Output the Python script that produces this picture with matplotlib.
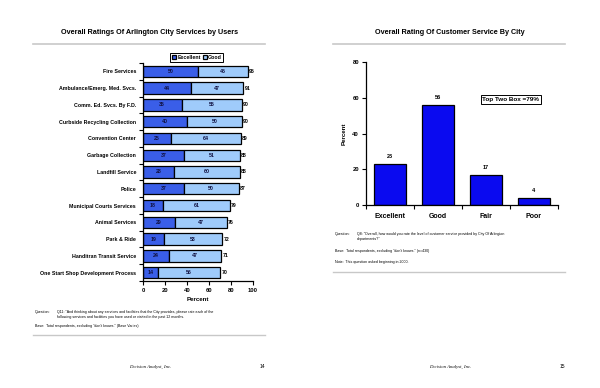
import numpy as np
import matplotlib.pyplot as plt
from matplotlib.lines import Line2D

plt.rcParams['font.family'] = ['Liberation Sans', 'DejaVu Sans']

# left page data
services = ["Fire Services", "Ambulance/Emerg. Med. Svcs.", "Comm. Ed. Svcs. By F.D.",
            "Curbside Recycling Collection", "Convention Center", "Garbage Collection",
            "Landfill Service", "Police", "Municipal Courts Services", "Animal Services",
            "Park & Ride", "Handitran Transit Service", "One Start Shop Development Process"]
excellent = [50, 44, 35, 40, 25, 37, 28, 37, 18, 29, 19, 24, 14]
good = [45, 47, 55, 50, 64, 51, 60, 50, 61, 47, 53, 47, 56]
totals = [95, 91, 90, 90, 89, 88, 88, 87, 79, 76, 72, 71, 70]

# right page data
ratings = ["Excellent", "Good", "Fair", "Poor"]
rating_pct = [23, 56, 17, 4]

W, H = 600, 388
fig = plt.figure(figsize=(6, 3.88), dpi=100)


def fx(px):
    return px / W


def fy(py):
    return 1 - py / H


# ---------------- left page ----------------
fig.text(fx(150), fy(33), "Overall Ratings Of Arlington City Services by Users",
         ha="center", va="center", fontsize=5.2, fontweight="bold")
fig.add_artist(Line2D([fx(33), fx(265)], [fy(44), fy(44)], color="#c8c8c8", lw=1.2))

ax1 = fig.add_axes([fx(143), fy(281), fx(110), fy(63) - fy(281)])
y = np.arange(len(services))
ax1.barh(y, excellent, height=0.68, color="#3a5ee8", edgecolor="black", lw=0.9, label="Excellent")
ax1.barh(y, good, left=excellent, height=0.68, color="#9fcbfb", edgecolor="black", lw=0.9, label="Good")
for i in range(len(services)):
    ax1.text(excellent[i] / 2, y[i], str(excellent[i]), ha="center", va="center",
             fontsize=3.8, fontweight="bold", color="#101040")
    ax1.text(excellent[i] + good[i] / 2, y[i], str(good[i]), ha="center", va="center",
             fontsize=3.8, fontweight="bold", color="#101040")
    ax1.text(totals[i] + 1.2, y[i], str(totals[i]), ha="left", va="center",
             fontsize=3.8, fontweight="bold")
ax1.set_ylim(len(services) - 0.5, -0.5)
ax1.set_xlim(0, 100)
ax1.set_xticks([0, 20, 40, 60, 80, 100])
ax1.set_yticks(y)
ax1.set_yticklabels(services)
ax1.set_yticks(np.arange(-0.5, len(services), 1), minor=True)
ax1.tick_params(axis="y", which="major", length=0, labelsize=3.8, pad=5)
ax1.tick_params(axis="y", which="minor", length=3, width=0.8, direction="out")
ax1.tick_params(axis="x", length=3, width=0.8, labelsize=4.2, pad=2)
for lab in ax1.get_yticklabels() + ax1.get_xticklabels():
    lab.set_fontweight("bold")
ax1.spines[["top", "right"]].set_visible(False)
ax1.spines[["left", "bottom"]].set_linewidth(0.9)
ax1.set_xlabel("Percent", fontsize=4.4, fontweight="bold", labelpad=3)
ax1.legend(loc="center", bbox_to_anchor=(0.49, 1.025), ncol=2, fontsize=3.8,
           frameon=True, fancybox=False, edgecolor="black", framealpha=1,
           handlelength=0.8, handleheight=0.8, handletextpad=0.2, columnspacing=0.4,
           borderpad=0.3, borderaxespad=0)
for t in ax1.get_legend().get_texts():
    t.set_fontweight("bold")
ax1.get_legend().get_frame().set_linewidth(0.7)

fig.text(fx(35), fy(312), "Question:", fontsize=2.6, va="center")
fig.text(fx(57), fy(312), "Q11: \"And thinking about any services and facilities that the City provides, please rate each of the",
         fontsize=2.6, va="center")
fig.text(fx(57), fy(317), "following services and facilities you have used or visited in the past 12 months.",
         fontsize=2.6, va="center")
fig.text(fx(35), fy(326), "Base:  Total respondents, excluding \"don't knows.\" (Base Varies)",
         fontsize=2.6, va="center")
fig.add_artist(Line2D([fx(33), fx(265)], [fy(335), fy(335)], color="#c8c8c8", lw=1.0))
fig.text(fx(150), fy(367), "Decision Analyst, Inc.", ha="center", va="center",
         fontsize=3.4, style="italic", family="Liberation Serif")
fig.text(fx(262), fy(367), "14", ha="center", va="center", fontsize=3.6)

# ---------------- right page ----------------
fig.text(fx(450), fy(33), "Overall Rating Of Customer Service By City",
         ha="center", va="center", fontsize=5.2, fontweight="bold")
fig.add_artist(Line2D([fx(333), fx(565)], [fy(44), fy(44)], color="#c8c8c8", lw=1.2))

ax2 = fig.add_axes([fx(366), fy(205), fx(192), fy(62) - fy(205)])
x = np.arange(len(ratings))
ax2.bar(x, rating_pct, width=0.67, color="#0a0af0", edgecolor="black", lw=0.9)
for i, v in enumerate(rating_pct):
    ax2.text(x[i], v + 2.5, str(v), ha="center", va="bottom", fontsize=4, fontweight="bold")
ax2.set_xlim(-0.5, len(ratings) - 0.5)
ax2.set_ylim(0, 80)
ax2.set_yticks([0, 20, 40, 60, 80])
ax2.set_xticks(x)
ax2.set_xticklabels(ratings)
ax2.set_xticks(np.arange(-0.5, len(ratings), 1), minor=True)
ax2.tick_params(axis="x", which="major", length=0, labelsize=5, pad=6)
ax2.tick_params(axis="x", which="minor", length=3, width=0.8, direction="out")
ax2.tick_params(axis="y", length=3, width=0.8, labelsize=4.2, pad=2)
for lab in ax2.get_yticklabels() + ax2.get_xticklabels():
    lab.set_fontweight("bold")
ax2.spines[["top", "right"]].set_visible(False)
ax2.spines[["left", "bottom"]].set_linewidth(0.9)
ax2.set_ylabel("Percent", fontsize=4.4, fontweight="bold", labelpad=4)
ax2.text(2.52, 59, "Top Two Box =79%", ha="center", va="center", fontsize=4.6,
         fontweight="bold",
         bbox=dict(boxstyle="square,pad=0.3", fc="white", ec="black", lw=0.7))

fig.text(fx(335), fy(234), "Question:", fontsize=2.6, va="center")
fig.text(fx(357), fy(234), "Q8: \"Overall, how would you rate the level of customer service provided by City Of Arlington",
         fontsize=2.6, va="center")
fig.text(fx(357), fy(239), "departments?\"", fontsize=2.6, va="center")
fig.text(fx(335), fy(251), "Base:  Total respondents, excluding \"don't knows.\" (n=430)",
         fontsize=2.6, va="center")
fig.text(fx(335), fy(262), "Note:  This question asked beginning in 2000.",
         fontsize=2.6, va="center")
fig.add_artist(Line2D([fx(333), fx(565)], [fy(272), fy(272)], color="#c8c8c8", lw=1.0))
fig.text(fx(450), fy(367), "Decision Analyst, Inc.", ha="center", va="center",
         fontsize=3.4, style="italic", family="Liberation Serif")
fig.text(fx(562), fy(367), "15", ha="center", va="center", fontsize=3.6)

fig.savefig("out.png", dpi=100)
